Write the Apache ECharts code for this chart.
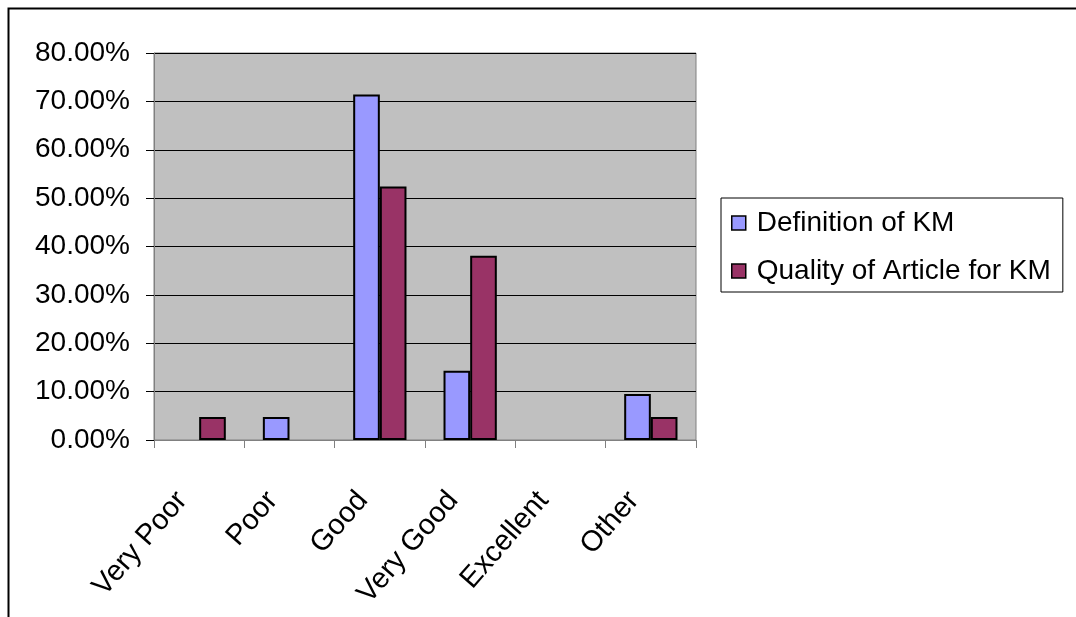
<!DOCTYPE html>
<html>
<head>
<meta charset="utf-8">
<script src="https://cdn.jsdelivr.net/npm/echarts@6/dist/echarts.min.js"></script>
<style>
  html, body { margin: 0; padding: 0; background: #ffffff; }
  #chart { width: 1076px; height: 617px; }
</style>
</head>
<body>
<div id="chart"></div>
<script>
// Ratings of the KM definition and of the article quality (percent of responses)
const categories = ['Very Poor', 'Poor', 'Good', 'Very Good', 'Excellent', 'Other'];
const definitionOfKM = [0, 4.76, 71.43, 14.29, 0, 9.52];
const qualityOfArticle = [4.76, 0, 52.38, 38.10, 0, 4.76];
const seriesNames = ['Definition of KM', 'Quality of Article for KM'];
const yTicks = { min: 0, max: 80, interval: 10 };

// empty categories draw no bar at all
const toBars = arr => arr.map(v => (v === 0 ? '-' : v));

const font = 'Liberation Sans, Arial, sans-serif';
const chart = echarts.init(document.getElementById('chart'));

chart.setOption({
  animation: false,
  backgroundColor: '#ffffff',
  graphic: [{
    type: 'rect',
    left: 6, top: 6,
    shape: { width: 1200, height: 800 },
    style: { fill: 'none', stroke: '#000000', lineWidth: 2 },
    silent: true,
    z: -1
  }],
  grid: {
    left: 154, top: 53, right: 380, bottom: 177,
    show: true,
    backgroundColor: '#c0c0c0',
    borderColor: '#808080',
    borderWidth: 1
  },
  legend: {
    orient: 'vertical',
    left: 721, top: 198,
    padding: [10, 12, 6, 10],
    itemWidth: 14, itemHeight: 14,
    itemGap: 18,
    borderColor: '#000000',
    borderWidth: 1,
    icon: 'rect',
    itemStyle: { borderColor: '#000000', borderWidth: 1.5 },
    textStyle: { fontFamily: font, fontSize: 28, color: '#000000', lineHeight: 30, padding: [0, 0, 0, 6] },
    data: seriesNames
  },
  xAxis: {
    type: 'category',
    data: categories,
    axisLine: { lineStyle: { color: '#808080', width: 1 } },
    axisTick: { show: true, alignWithLabel: false, length: 8, lineStyle: { color: '#808080' } },
    axisLabel: {
      interval: 0,
      rotate: 49,
      margin: 36,
      padding: [0, 26, 0, 0],
      fontFamily: font,
      fontSize: 29,
      color: '#000000'
    },
    splitLine: { show: false }
  },
  yAxis: {
    type: 'value',
    min: yTicks.min, max: yTicks.max, interval: yTicks.interval,
    axisLine: { show: true, lineStyle: { color: '#808080', width: 1 } },
    axisTick: { show: true, length: 8, lineStyle: { color: '#000000' } },
    axisLabel: {
      margin: 24,
      fontFamily: font,
      fontSize: 28,
      color: '#000000',
      formatter: v => v.toFixed(2) + '%'
    },
    splitLine: { show: true, lineStyle: { color: '#000000', width: 1 } }
  },
  series: [
    {
      name: seriesNames[0],
      type: 'bar',
      data: toBars(definitionOfKM),
      barGap: '0%',
      barCategoryGap: '41%',
      itemStyle: { color: '#9999ff', borderColor: '#000000', borderWidth: 2 }
    },
    {
      name: seriesNames[1],
      type: 'bar',
      data: toBars(qualityOfArticle),
      barGap: '0%',
      barCategoryGap: '41%',
      itemStyle: { color: '#993366', borderColor: '#000000', borderWidth: 2 }
    }
  ]
});
</script>
</body>
</html>
